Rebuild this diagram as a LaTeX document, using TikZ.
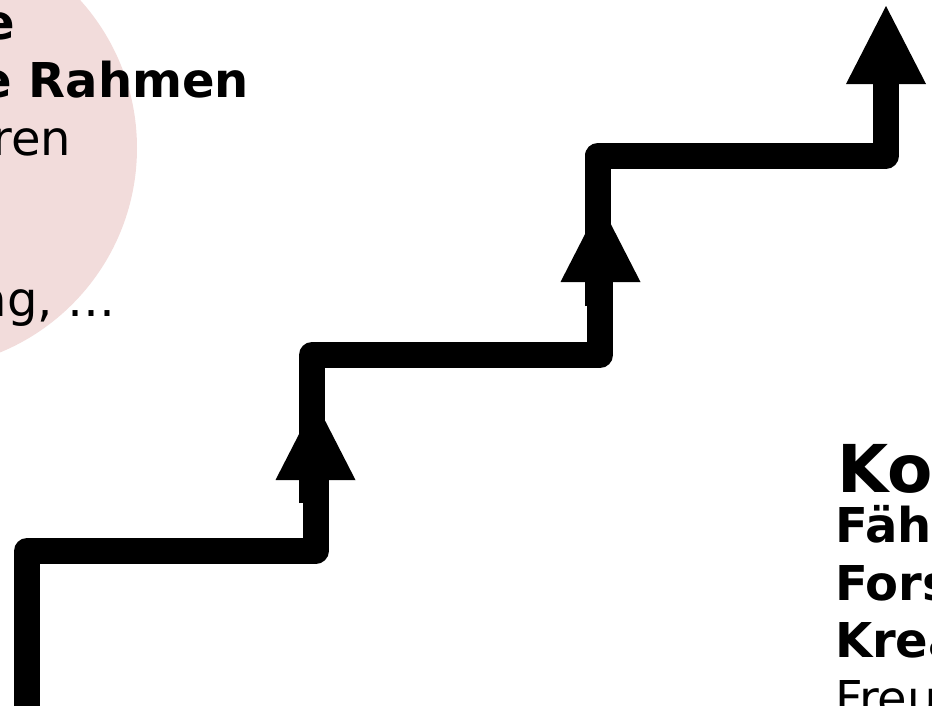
\documentclass[tikz,border=0pt]{standalone}
\usepackage{fontspec}
\setmainfont{DejaVu Sans}
\definecolor{pinkfill}{RGB}{242,220,219}
\begin{document}
\begin{tikzpicture}[x=1pt,y=-1pt,
  stair/.style={draw=black, line width=26pt, line join=round, line cap=butt},
  head/.style={fill=black},
  txt/.style={inner sep=0pt, outer sep=0pt, font=\fontsize{48}{58}\selectfont},
  txtb/.style={inner sep=0pt, outer sep=0pt, font=\fontsize{48}{58}\selectfont\bfseries},
  txtbig/.style={inner sep=0pt, outer sep=0pt, font=\fontsize{66}{72}\selectfont\bfseries}]
\useasboundingbox (0,0) rectangle (932,705);
\clip (0,0) rectangle (932,705);
% background circle
\fill[pinkfill] (-84,148) circle[radius=221pt];
% top-left text fragments
\node[txtb, anchor=base east] (t1) at (15,39) {e};
\node[txtb, anchor=base east] (t2) at (249,97) {e Rahmen};
\node[txt, anchor=base east] (t3) at (71,155) {ren};
\node[txt, anchor=base east] (t4) at (116,316) {ng, …};
% bottom-right text fragments
\node[txtbig, anchor=base west] (r0) at (837,492) {Ko};
\node[txtb, anchor=base west] (r1) at (835,542) {Fäh};
\node[txtb, anchor=base west] (r2) at (835,600) {Fors};
\node[txtb, anchor=base west] (r3) at (835,657) {Krea};
\node[txt, anchor=base west] (r4) at (835,715) {Freu};
% arrow 1
\coordinate (a1s) at (27,720);
\coordinate (a1c1) at (27,551);
\coordinate (a1c2) at (315.5,551);
\coordinate (a1e) at (315.5,470);
\draw[stair] (a1s) -- (a1c1) -- (a1c2) -- (a1e);
\fill[head] (275.5,480) -- (315.5,402) -- (355.5,480) -- cycle;
% arrow 2
\coordinate (a2s) at (312,503);
\coordinate (a2c1) at (312,355);
\coordinate (a2c2) at (600,355);
\coordinate (a2e) at (600,272);
\draw[stair] (a2s) -- (a2c1) -- (a2c2) -- (a2e);
\fill[head] (560.5,282) -- (600.5,204) -- (640.5,282) -- cycle;
% arrow 3
\coordinate (a3s) at (598,306);
\coordinate (a3c1) at (598,155.5);
\coordinate (a3c2) at (886,155.5);
\coordinate (a3e) at (886,74);
\draw[stair] (a3s) -- (a3c1) -- (a3c2) -- (a3e);
\fill[head] (846,84) -- (886,6) -- (926,84) -- cycle;
\end{tikzpicture}
\end{document}
